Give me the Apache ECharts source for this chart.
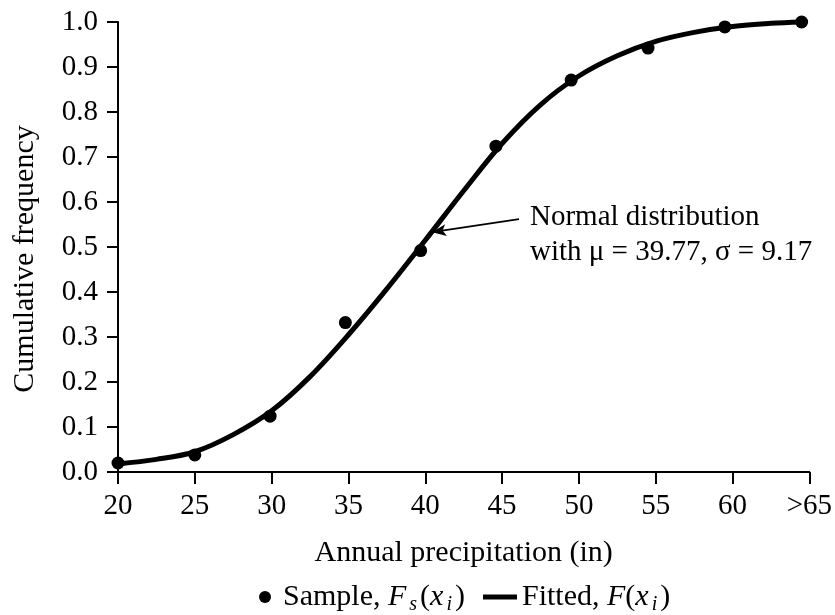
<!DOCTYPE html>
<html>
<head>
<meta charset="utf-8">
<script src="https://cdn.jsdelivr.net/npm/echarts@6/dist/echarts.min.js"></script>
<style>
html,body{margin:0;padding:0;background:#fff;}
#chart{width:835px;height:615px;}
</style>
</head>
<body>
<div id="chart"></div>
<script>
// Sample cumulative frequencies F_s(x_i)
const sampleX = [20, 25, 29.9, 34.8, 39.7, 44.6, 49.5, 54.5, 59.5, 64.5];
const sampleY = [0.02, 0.038, 0.124, 0.332, 0.492, 0.724, 0.871, 0.942, 0.989, 1.0];
// Fitted curve F(x_i)
const fitX = [20, 22.5, 25, 27.5, 30, 32.5, 35, 37.5, 40, 42.5, 45, 47.5, 50, 52.5, 55, 57.5, 60, 62.5, 64.5];
const fitY = [0.018, 0.028, 0.045, 0.083, 0.136, 0.212, 0.305, 0.407, 0.515, 0.625, 0.73, 0.816, 0.88, 0.925, 0.957, 0.977, 0.99, 0.997, 1.0];
// Axis ticks
const xTicks = [20, 25, 30, 35, 40, 45, 50, 55, 60, 65];
const xTickLabels = ['20', '25', '30', '35', '40', '45', '50', '55', '60', '>65'];
// Annotation arrow (data coordinates)
const arrowFrom = [46.1, 0.562];
const arrowTo = [40.45, 0.533];
const annotationLines = ['Normal distribution', 'with \u03bc = 39.77, \u03c3 = 9.17'];

const FONT = 'Liberation Serif';
const FS = 29;
const LFS = 30;

const chart = echarts.init(document.getElementById('chart'), null, {renderer: 'canvas'});
const richStyles = {
  n0: {fontFamily: FONT, fontSize: LFS, color: '#000', lineHeight: 36, padding: [0, 0, 0, 7]},
  n: {fontFamily: FONT, fontSize: LFS, color: '#000', lineHeight: 36},
  it: {fontFamily: FONT, fontSize: LFS, fontStyle: 'italic', color: '#000', lineHeight: 36},
  sub: {fontFamily: FONT, fontSize: 20, fontStyle: 'italic', color: '#000', lineHeight: 18, verticalAlign: 'bottom', padding: [0, 3, 0, 3]}
};
chart.setOption({
  backgroundColor: '#fff',
  animation: false,
  grid: {left: 118, right: 24, top: 22, bottom: 143},
  xAxis: {
    type: 'value', min: 20, max: 65, interval: 5,
    name: 'Annual precipitation (in)', nameLocation: 'middle', nameGap: 66,
    nameTextStyle: {fontFamily: FONT, fontSize: 30, color: '#000'},
    axisLine: {show: true, onZero: false, lineStyle: {color: '#000', width: 2}},
    axisTick: {show: true, length: 12, lineStyle: {color: '#000', width: 2}},
    axisLabel: {
      fontFamily: FONT, fontSize: FS, color: '#000', margin: 20,
      formatter: v => { const i = xTicks.indexOf(v); return i >= 0 ? xTickLabels[i] : ''; }
    },
    splitLine: {show: false}
  },
  yAxis: {
    type: 'value', min: 0, max: 1, interval: 0.1,
    name: 'Cumulative frequency', nameLocation: 'middle', nameGap: 78,
    nameTextStyle: {fontFamily: FONT, fontSize: 30, color: '#000', padding: [0, 24, 0, 0]},
    axisLine: {show: true, onZero: false, lineStyle: {color: '#000', width: 2}},
    axisTick: {show: true, length: 11, lineStyle: {color: '#000', width: 2}},
    axisLabel: {fontFamily: FONT, fontSize: FS, color: '#000', margin: 20, formatter: v => v.toFixed(1)},
    splitLine: {show: false}
  },
  legend: [
    {
      data: ['Sample'], left: 254, top: 577, icon: 'circle', itemWidth: 12, itemHeight: 12,
      itemStyle: {color: '#000', opacity: 1},
      formatter: () => '{n0|Sample, }{it|F}{sub|s}{n|(}{it|x}{sub|i}{n|)}',
      textStyle: {fontFamily: FONT, fontSize: LFS, color: '#000', rich: richStyles}
    },
    {
      data: ['Fitted'], left: 478, top: 577, icon: 'rect', itemWidth: 34, itemHeight: 5,
      itemStyle: {color: '#000', opacity: 1},
      formatter: () => '{n|Fitted, }{it|F}{n|(}{it|x}{sub|i}{n|)}',
      textStyle: {fontFamily: FONT, fontSize: LFS, color: '#000', rich: richStyles}
    }
  ],
  series: [
    {
      name: 'Fitted', type: 'line', smooth: 0.35, showSymbol: false, clip: false,
      data: fitX.map((x, i) => [x, fitY[i]]),
      lineStyle: {color: '#000', width: 5}, itemStyle: {color: '#000'},
      z: 2,
      markLine: {
        silent: true, symbol: ['none', 'arrow'], symbolSize: [9, 14],
        lineStyle: {color: '#000', width: 1.6, type: 'solid'},
        label: {show: false},
        data: [[{coord: arrowFrom}, {coord: arrowTo}]]
      }
    },
    {
      name: 'Sample', type: 'scatter', symbol: 'circle', symbolSize: 13, clip: false,
      data: sampleX.map((x, i) => [x, sampleY[i]]),
      itemStyle: {color: '#000', opacity: 1}, z: 3
    }
  ],
  graphic: [
    {
      type: 'text', left: 530, top: 200, z: 10,
      style: {text: annotationLines.join('\n'), fontFamily: FONT, fontSize: 29, lineHeight: 35, fill: '#000'}
    }
  ]
});
</script>
</body>
</html>
